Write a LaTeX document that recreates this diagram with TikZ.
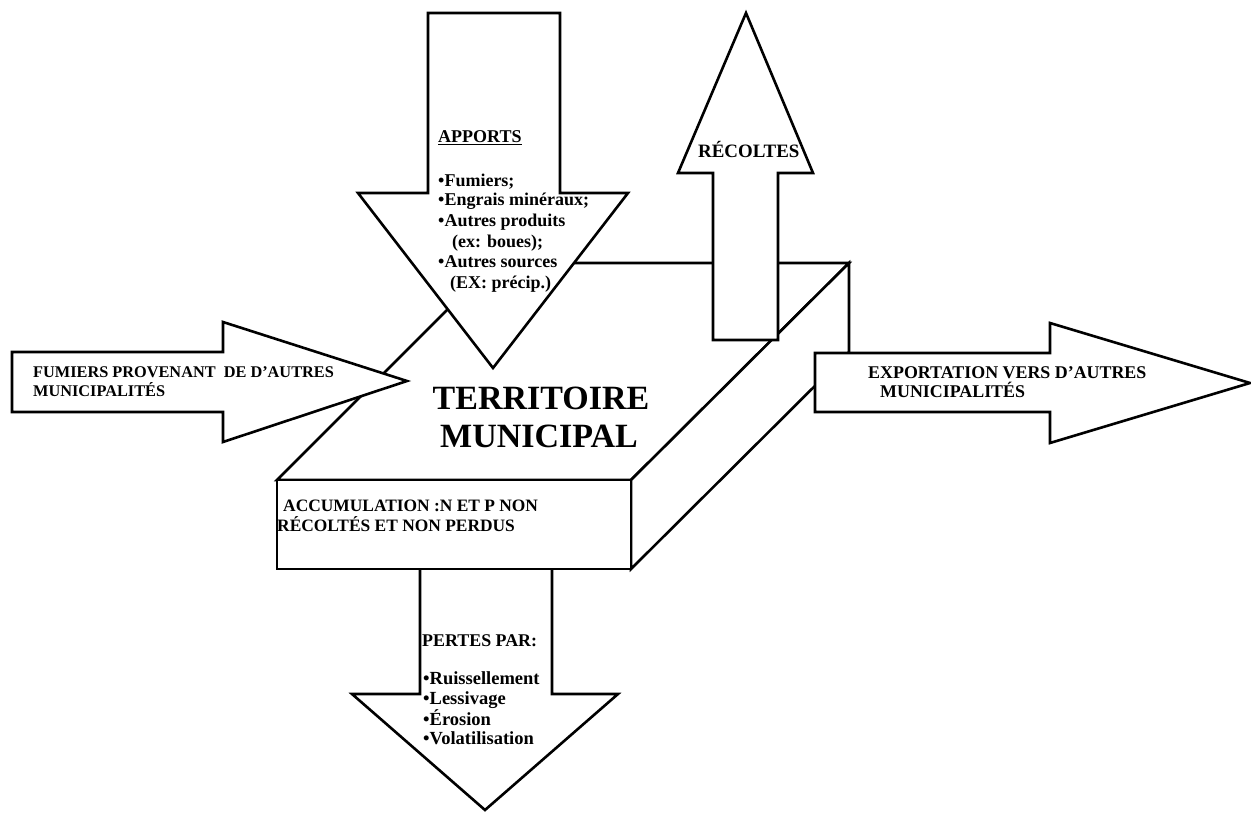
\documentclass[tikz,border=0pt]{standalone}
\usepackage{fontspec}
\setmainfont{Liberation Serif}
\begin{document}
\begin{tikzpicture}[x=1pt,y=-1pt,
  shape3d/.style={draw=black, line width=2.6pt, fill=white, line join=miter},
  blockarrow/.style={draw=black, line width=2.6pt, fill=white, line join=miter},
  lbl/.style={inner sep=0pt, anchor=base west, font=\bfseries\fontsize{17}{20}\selectfont},
  listA/.style={lbl, font=\bfseries\fontsize{18}{20}\selectfont},
  listP/.style={lbl, font=\bfseries\fontsize{18.5}{20}\selectfont},
  big/.style={inner sep=0pt, anchor=base, font=\bfseries\fontsize{34}{38}\selectfont}]
\useasboundingbox[fill=white] (0,0) rectangle (1251,813);

% outgoing losses arrow (below the slab)
\draw[blockarrow] (420,566) -- (552,566) -- (552,694) -- (618,694) -- (485,810) -- (352,694) -- (420,694) -- cycle;

% slab: territoire municipal
\draw[shape3d] (277,480) -- (494,263) -- (849,263) -- (631,480) -- cycle;
\draw[shape3d] (631,480) -- (849,263) -- (849,352) -- (631,569) -- cycle;
\draw[shape3d] (277,480) rectangle (631,569);

% incoming manure arrow
\draw[blockarrow] (12,352) -- (223,352) -- (223,322) -- (407,381) -- (223,442) -- (223,412) -- (12,412) -- cycle;

% inputs arrow
\draw[blockarrow] (428,13) -- (560,13) -- (560,193) -- (628,193) -- (493,368) -- (358,193) -- (428,193) -- cycle;

% harvest arrow
\draw[blockarrow] (713,340) -- (713,173) -- (678,173) -- (746,13) -- (813,173) -- (778,173) -- (778,340) -- cycle;

% export arrow
\draw[blockarrow] (815,353) -- (1050,353) -- (1050,323) -- (1250,383) -- (1050,443) -- (1050,412) -- (815,412) -- cycle;

% texts
\node[listA] (apports) at (438,143) {\underline{APPORTS}};
\node[listA] (a1) at (438,187) {•Fumiers;};
\node[listA] (a2) at (438,206) {•Engrais minéraux;};
\node[listA] (a3) at (438,227) {•Autres produits};
\node[listA] (a4) at (452,248) {(ex: boues);};
\node[listA] (a5) at (438,268) {•Autres sources};
\node[listA] (a6) at (450,288) {(EX: précip.)};

\node[lbl, font=\bfseries\fontsize{18.9}{20}\selectfont] (recoltes) at (698,158) {RÉCOLTES};

\node[lbl, font=\bfseries\fontsize{16.3}{19}\selectfont] (f1) at (33,377) {FUMIERS PROVENANT \ DE D'AUTRES};
\node[lbl, font=\bfseries\fontsize{16.3}{19}\selectfont] (f2) at (33,396) {MUNICIPALITÉS};

\node[lbl, font=\bfseries\fontsize{17.9}{19}\selectfont] (e1) at (868,378) {EXPORTATION VERS D'AUTRES};
\node[lbl, font=\bfseries\fontsize{17.9}{19}\selectfont] (e2) at (880,397) {MUNICIPALITÉS};

\node[big] (t1) at (541,409) {TERRITOIRE};
\node[big] (t2) at (539,447) {MUNICIPAL};

\node[lbl, font=\bfseries\fontsize{17.4}{19}\selectfont] (c1) at (283,511) {ACCUMULATION :N ET P NON};
\node[lbl, font=\bfseries\fontsize{17.4}{19}\selectfont] (c2) at (277,531) {RÉCOLTÉS ET NON PERDUS};

\node[lbl, font=\bfseries\fontsize{17.9}{19}\selectfont] (pertes) at (422,646) {PERTES PAR:};
\node[listP] (p1) at (423,684) {•Ruissellement};
\node[listP] (p2) at (423,704) {•Lessivage};
\node[listP] (p3) at (423,725) {•Érosion};
\node[listP] (p4) at (423,744) {•Volatilisation};
\end{tikzpicture}
\end{document}
